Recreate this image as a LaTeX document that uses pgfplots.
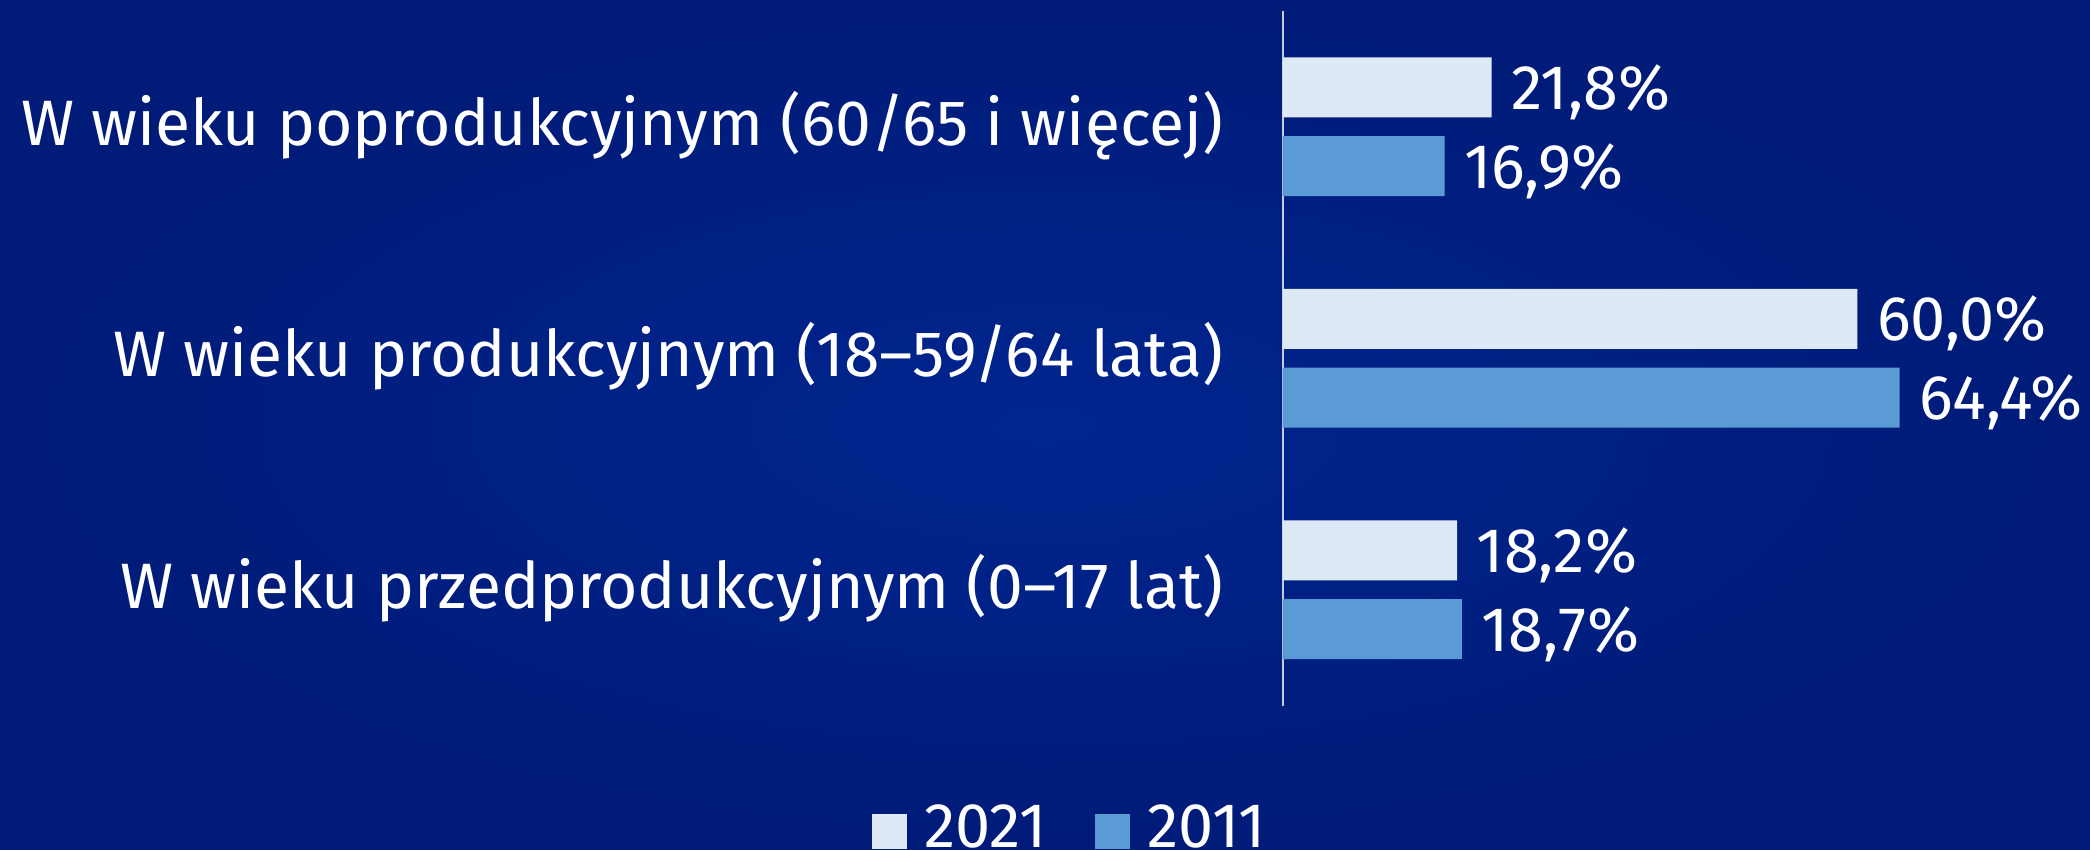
\documentclass[border=0pt]{standalone}
\usepackage{fontspec}
\setmainfont{Fira Sans}
\usepackage{pgfplots}
\pgfplotsset{compat=1.18}
\definecolor{bgin}{HTML}{00258F}
\definecolor{bgout}{HTML}{001B78}
\definecolor{bar21}{HTML}{DEE9F6}
\definecolor{bar11}{HTML}{5B9BD5}
\definecolor{axgray}{HTML}{C9CCD8}
\def\px{0.25pt}
\newcommand\chartfont{\fontsize{15.75pt}{18pt}\selectfont}
\newcommand\catfont{\fontsize{16.05pt}{18pt}\selectfont}
\begin{document}
\begin{tikzpicture}
\shade[use as bounding box, inner color=bgin, outer color=bgout]
  (0,0) rectangle (2090*\px,-849*\px);
\begin{axis}[
    at={(1282.7*\px,-11*\px)}, anchor=north west,
    scale only axis,
    width=670.6*\px, height=694.5*\px,
    xmin=0, xmax=70, ymin=-0.5, ymax=2.5,
    xbar,
    bar width=60*\px,
    axis x line=none,
    axis y line*=left,
    y axis line style={-, draw=axgray, line width=2*\px},
    ytick={0,1,2},
    yticklabels={W wieku przedprodukcyjnym (0--17 lat),
                 W wieku produkcyjnym (18--59/64 lata),
                 W wieku poprodukcyjnym (60/65 i więcej)},
    major tick length=0pt,
    yticklabel style={font=\catfont, text=white, anchor=base east,
                      inner sep=0pt, xshift=-58.7*\px, yshift=-18.3*\px},
    /pgf/number format/assume math mode=true,
    point meta=x,
    nodes near coords={\pgfmathprintnumber[fixed,fixed zerofill,precision=1,use comma]{\pgfplotspointmeta}\%},
    every node near coord/.append style={font=\chartfont, text=white,
                      anchor=base west, inner sep=0pt, xshift=19*\px, yshift=-22*\px},
    legend columns=2,
    legend style={draw=none, fill=none, font=\chartfont, text=white,
                  inner sep=0pt, at={(axis description cs:-0.3187,-0.2138)}, anchor=south,
                  /tikz/every odd column/.append style={column sep=17.5*\px},
                  /tikz/every even column/.append style={column sep=48.5*\px}},
    legend cell align=left,
    legend image code/.code={\fill[#1] (0,-20*\px) rectangle (35*\px,15*\px);},
    legend style={nodes={inner sep=0pt, xshift=0pt}},
    clip=false,
]
\addplot[fill=bar21, draw=none, bar shift=39.3*\px]
  coordinates {(18.2,0) (60.0,1) (21.8,2)};
\addplot[fill=bar11, draw=none, bar shift=-39.3*\px]
  coordinates {(18.7,0) (64.4,1) (16.9,2)};
\legend{2021,2011}
\end{axis}
\end{tikzpicture}
\end{document}
